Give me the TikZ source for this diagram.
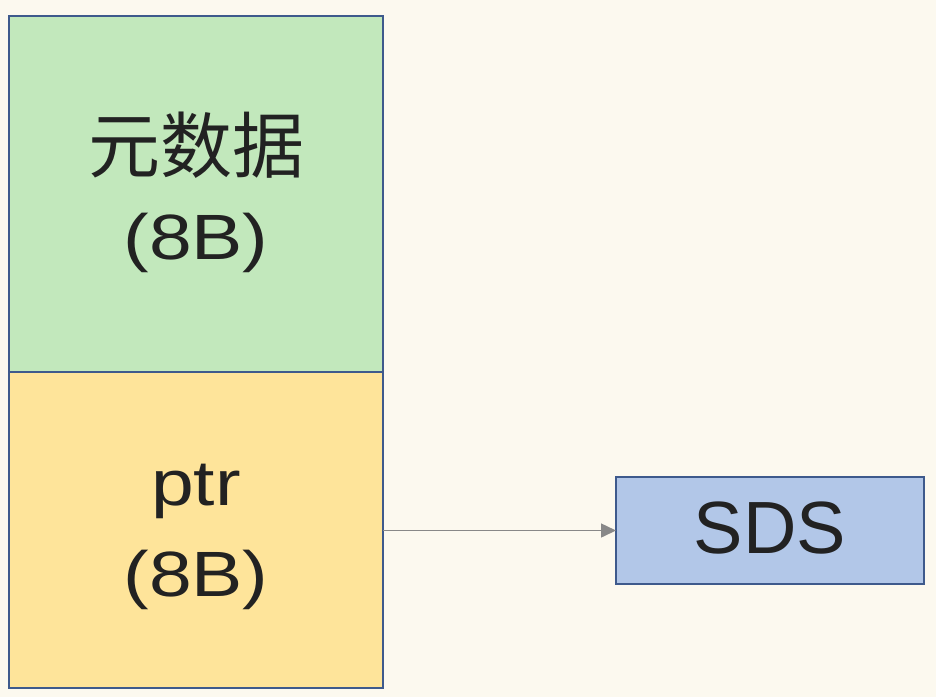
\documentclass[tikz,border=0pt]{standalone}
\usepackage{fontspec}
\setmainfont{Liberation Sans}
\newfontfamily\widefont[FakeStretch=1.2]{Liberation Sans}
\newfontfamily\cjkfont{Noto Sans CJK SC}
\usetikzlibrary{arrows.meta}
\definecolor{bgc}{RGB}{252,249,239}
\definecolor{greenc}{RGB}{194,232,188}
\definecolor{yellowc}{RGB}{254,228,154}
\definecolor{bluec}{RGB}{178,199,232}
\definecolor{borderc}{RGB}{62,90,140}
\definecolor{textc}{RGB}{34,34,34}
\definecolor{arrowc}{RGB}{136,136,136}
\tikzset{
  box/.style={draw=borderc, line width=2.5pt, inner sep=0pt, outer sep=0pt, anchor=north west},
  lbl/.style={anchor=base, text=textc, inner sep=0pt},
  big/.style={lbl, font=\widefont\fontsize{64}{64}\selectfont},
  cjk/.style={lbl, font=\cjkfont\fontsize{72}{72}\selectfont},
  sdsf/.style={lbl, font=\fontsize{74}{74}\selectfont},
  conn/.style={draw=arrowc, line width=1.5pt, -{Triangle[length=15pt,width=14pt]}}
}
\begin{document}
\begin{tikzpicture}[x=1pt,y=-1pt]
\fill[bgc] (0,0) rectangle (936,697);
\useasboundingbox (0,0) rectangle (936,697);
\node[box, fill=greenc, minimum width=374pt, minimum height=356pt] (meta) at (9,16) {};
\node[box, fill=yellowc, minimum width=374pt, minimum height=316pt] (ptr) at (9,372) {};
\node[box, fill=bluec, minimum width=308pt, minimum height=107pt] (sds) at (616,477) {};
\node[cjk] (t1) at (196,172) {元数据};
\node[big] (t2) at (196,259) {(8B)};
\node[big] (t3) at (196,505) {ptr};
\node[big] (t4) at (196,596) {(8B)};
\node[sdsf] (t5) at (770,553) {SDS};
\draw[conn] (ptr.east |- sds.west) -- (sds.west);
\end{tikzpicture}
\end{document}
